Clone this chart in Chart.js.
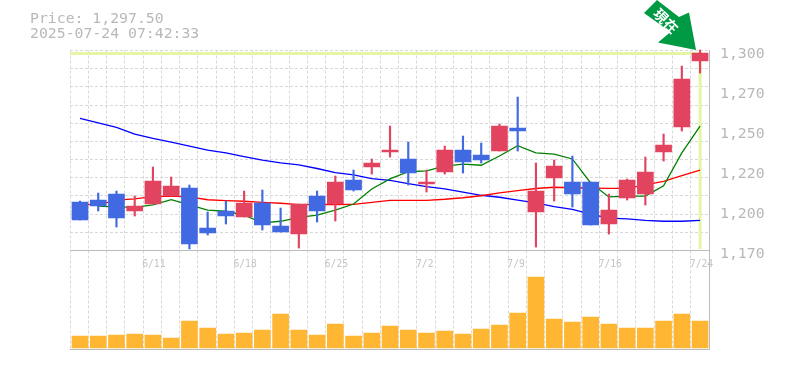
<!DOCTYPE html>
<html>
<head>
<meta charset="utf-8">
<style>
  body { margin: 0; background: #fff; }
  #wrap { position: relative; width: 785px; height: 370px; overflow: hidden; }
  #info { position: absolute; left: 30px; top: 10px; font: 14.8px/15px "DejaVu Sans Mono", monospace; color: #b8b8b8; white-space: pre; }
</style>
<script src="https://cdn.jsdelivr.net/npm/chart.js@4"></script>
</head>
<body>
<div id="wrap">
  <div id="info">Price: 1,297.50
2025-07-24 07:42:33</div>
  <canvas id="chart" width="785" height="370"></canvas>
</div>
<script>
const dates = ["6/5","6/6","6/9","6/10","6/11","6/12","6/13","6/16","6/17","6/18","6/19","6/20","6/23","6/24","6/25","6/26","6/27","6/30","7/1","7/2","7/3","7/4","7/7","7/8","7/9","7/10","7/11","7/14","7/15","7/16","7/17","7/18","7/22","7/23","7/24"];
const shownDates = ["6/11","6/18","6/25","7/2","7/9","7/16","7/24"];

const opens = [1201.5,1202.8,1206.7,1195.65,1200.2,1205.4,1210.6,1184.6,1195.65,1191.75,1200.85,1185.9,1180.7,1205.4,1200.2,1215.8,1224.25,1234,1229.45,1213.2,1221,1235.3,1232.05,1234.65,1249.6,1195,1217.1,1214.5,1214.5,1187.2,1204.1,1206.7,1234,1250.25,1293.15];
const closes = [1189.8,1198.9,1191.1,1198.9,1215.15,1211.9,1174.2,1181.35,1192.4,1200.85,1186.55,1182,1200.2,1195.65,1214.5,1209.3,1226.85,1235.3,1220.35,1214.5,1235.3,1227.5,1228.8,1250.9,1247.65,1208.65,1224.9,1206.7,1186.55,1196.3,1215.8,1221,1238.55,1281.45,1298.35];
const highs = [1202.15,1207.35,1208.65,1205.4,1224.25,1217.75,1212.55,1195,1202.15,1208.65,1209.3,1197.6,1200.2,1208.65,1218.4,1222.3,1229.45,1250.9,1240.5,1222.3,1237.9,1244.4,1239.85,1252.2,1269.75,1226.85,1228.8,1231.4,1214.5,1206.7,1216.45,1230.75,1245.7,1289.9,1300.3];
const lows = [1189.8,1195.65,1185.25,1192.4,1200.2,1205.4,1171,1180.05,1187.2,1191.75,1183.3,1182,1171.6,1188.5,1189.15,1208.65,1219.7,1230.75,1212.55,1208,1219.7,1220.35,1226.85,1234.65,1234.65,1172.25,1202.15,1198.25,1186.55,1180.7,1202.8,1199.55,1228.15,1247.65,1285.35];

const maShort = [null,1198.9,1198.3,1198,1199.6,1203.1,1199.6,1196.3,1195.5,1193,1188,1189,1191.6,1193,1196.3,1200.2,1210,1216.5,1221.2,1221.7,1224.9,1226.2,1225.4,1231.4,1238.1,1233.4,1232.7,1229.5,1213.9,1204.8,1205.4,1205.4,1212.1,1233.4,1250.9];
const maMid = [1200.2,1199.6,1202.8,1203.5,1205,1205.4,1204.8,1203,1202.4,1202,1201.3,1200.7,1199.8,1199.9,1199.9,1200,1201.3,1202.6,1202.6,1202.6,1203.3,1204.3,1205.6,1207.4,1208.9,1210.3,1211.1,1210.8,1210.6,1210.4,1210.4,1212.6,1215,1218.6,1222.3];
const maLong = [1255.9,1252.9,1250.1,1245.7,1242.9,1240.5,1237.9,1235.3,1233.4,1231,1228.8,1226.9,1225.6,1223.3,1220.6,1219.1,1216.7,1215.6,1213.4,1211.5,1210,1208,1205.9,1204.6,1202.8,1200.9,1198.5,1196.8,1193.7,1191.1,1190.5,1189.6,1189,1189,1189.6];

const volumes = [12,12,13,14,13,10,27,20,14,15,18,34,18,13,24,12,15,22,18,15,17,14,19,23,35,71,29,26,31,24,20,20,27,34,27];

const priceLabels = ["1,300","1,270","1,250","1,220","1,200","1,170"];
const priceLabelTicks = [1300,1274,1248,1222,1196,1170];
const lastPrice = 1298.05;
const bandBottom = 1171;

const upColor = "#e2435f";
const downColor = "#4169e1";
const gridColor = "#d8d8d8";
const axisColor = "#bbbbbb";
const textColor = "#b8b8b8";

const xMin = -0.548;
const xMax = 34.49;
const candleColors = closes.map((c, i) => (c >= opens[i] ? upColor : downColor));
const pairs = (a, b) => a.map((v, i) => ({ x: i, y: [v, b[i]] }));
const points = arr => arr.map((v, i) => ({ x: i, y: v }));

// arrow with the label pointing at the last candle
const arrowPlugin = {
  id: "arrow",
  afterDraw(chart) {
    const ctx = chart.ctx;
    ctx.save();
    ctx.fillStyle = "#009944";
    ctx.beginPath();
    ctx.moveTo(644, 13);
    ctx.lineTo(657, 0);
    ctx.lineTo(679, 17);
    ctx.lineTo(689, 12.5);
    ctx.lineTo(696, 50);
    ctx.lineTo(658, 42.5);
    ctx.lineTo(670.5, 32);
    ctx.closePath();
    ctx.fill();
    ctx.translate(666, 21);
    ctx.rotate(Math.PI / 4);
    ctx.fillStyle = "#fff";
    ctx.font = "bold 14px 'Noto Sans CJK JP'";
    ctx.textAlign = "center";
    ctx.textBaseline = "middle";
    ctx.fillText("現在", 0, 0);
    ctx.restore();
  }
};

new Chart(document.getElementById("chart"), {
  data: {
    labels: dates,
    datasets: [
      { type: "line", xAxisID: "xBars", yAxisID: "y", order: 9, data: [{ x: xMin, y: lastPrice }, { x: 34, y: lastPrice }, { x: 34, y: bandBottom }], borderColor: "#e4f5a6", borderWidth: 3, pointRadius: 0 },
      { type: "bar", xAxisID: "xBars", yAxisID: "yVol", order: 8, data: points(volumes), backgroundColor: "#ffb733", barThickness: 16 },
      { type: "line", xAxisID: "xBars", yAxisID: "y", order: 7, data: points(maLong), borderColor: "#0000ff", borderWidth: 1.3, pointRadius: 0 },
      { type: "line", xAxisID: "xBars", yAxisID: "y", order: 6, data: points(maMid), borderColor: "#ff0000", borderWidth: 1.3, pointRadius: 0 },
      { type: "line", xAxisID: "xBars", yAxisID: "y", order: 5, data: points(maShort), borderColor: "#008000", borderWidth: 1.3, pointRadius: 0 },
      { type: "bar", xAxisID: "xBars", yAxisID: "y", order: 4, grouped: false, clip: false, data: pairs(lows, highs), backgroundColor: candleColors, barThickness: 1.5 },
      { type: "bar", xAxisID: "xBars", yAxisID: "y", order: 3, grouped: false, data: pairs(opens, closes), backgroundColor: candleColors, barThickness: 16 }
    ]
  },
  options: {
    responsive: false,
    animation: false,
    layout: { padding: { top: 50.5, bottom: 20.5, left: 0, right: 0 } },
    plugins: { legend: { display: false }, tooltip: { enabled: false } },
    scales: {
      x: {
        type: "category",
        position: { yGrid: 1170 },
        offset: true,
        grid: { color: gridColor, offset: true, drawTicks: false },
        border: { color: axisColor, width: 1, dash: [3, 2] },
        ticks: {
          autoSkip: false,
          maxRotation: 0,
          minRotation: 0,
          align: "start",
          labelOffset: -10,
          padding: 8,
          color: "#c4c4c4",
          font: { family: "'DejaVu Sans Mono'", size: 9.7 },
          callback(value) {
            const d = this.getLabelForValue(value);
            return shownDates.includes(d) ? d : "";
          }
        }
      },
      xBars: { type: "linear", display: false, min: xMin, max: xMax, offset: false },
      xEdge: {
        type: "category",
        position: "bottom",
        grid: { display: false, drawTicks: false },
        border: { color: axisColor, width: 1 },
        ticks: { display: false }
      },
      y: {
        position: "right",
        min: 1105.65,
        max: 1300,
        grid: { display: false, drawTicks: false },
        border: { color: axisColor, width: 1 },
        afterFit(scale) { scale.width = 76; },
        afterBuildTicks(scale) { scale.ticks = priceLabelTicks.map(v => ({ value: v })); },
        ticks: {
          padding: 11,
          labelOffset: 4,
          color: textColor,
          font: { family: "'DejaVu Sans Mono'", size: 14.8 },
          callback(value) { return priceLabels[priceLabelTicks.indexOf(value)]; }
        }
      },
      yGrid: {
        position: "left",
        min: 1105.65,
        max: 1300,
        afterFit(scale) { scale.width = 70; },
        afterBuildTicks(scale) {
          const ticks = [];
          for (let i = 0; i < 11; i++) ticks.push({ value: 1300 - i * 130 / 11 });
          scale.ticks = ticks;
        },
        grid: { color: gridColor, drawTicks: false },
        border: { display: false, dash: [3, 2] },
        ticks: { display: false }
      },
      yVol: { type: "linear", display: false, min: -1.5, max: 297.5 }
    }
  },
  plugins: [arrowPlugin]
});
</script>
</body>
</html>
